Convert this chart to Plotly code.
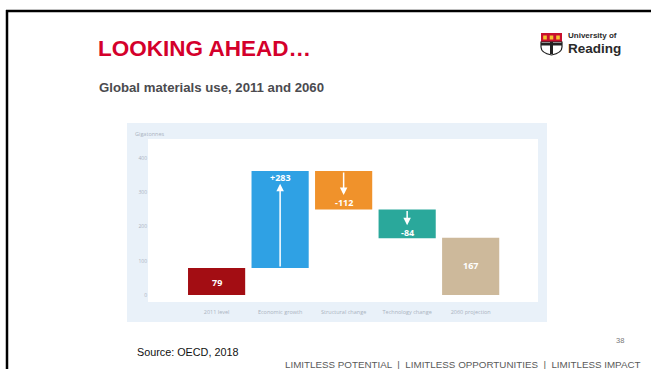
import plotly.graph_objects as go

# ---------------- data ----------------
categories = ["2011 level", "Economic growth", "Structural change", "Technology change", "2060 projection"]
changes = [79, 283, -112, -84, 167]          # Gigatonnes
kinds = ["total", "relative", "relative", "relative", "total"]
bar_colors = ["#a30d13", "#2fa1e4", "#f0922b", "#2aa89b", "#cdb99b"]
y_ticks = [0, 100, 200, 300, 400]

W, H = 651, 369
def px(x):
    return x / W
def py(y):
    return 1 - y / H

# floating bar bases from the running total
bases, lengths, tops = [], [], []
running = 0
for v, k in zip(changes, kinds):
    if k == "total":
        bases.append(0)
        lengths.append(v)
        running = v
        tops.append(v)
    else:
        start = running
        running = running + v
        bases.append(min(start, running))
        lengths.append(abs(v))
        tops.append(max(start, running))

fig = go.Figure()
fig.add_trace(go.Bar(
    x=categories, y=lengths, base=bases,
    marker=dict(color=bar_colors, line=dict(width=0)),
    width=0.9, hoverinfo="skip", showlegend=False,
))

# labels and arrows
label_font = dict(family="Open Sans, Liberation Sans, sans-serif", size=9, color="white")
annotations = []
arrow_len = {1: 37, 2: 70, 3: 46}
for i, (c, v, k) in enumerate(zip(categories, changes, kinds)):
    txt = str(v) if k == "total" else ("+%d" % v if v > 0 else "-%d" % abs(v))
    if k == "total":
        ly = v / 2 - (2 if v < 100 else -4)
    elif v > 0:
        top = tops[i]
        ly = top - 20
        annotations.append(dict(x=c, y=top - arrow_len[i], ax=c, ay=bases[i], xref="x", yref="y",
                                axref="x", ayref="y", text="", showarrow=True, arrowhead=2,
                                arrowsize=1, arrowwidth=1.5, arrowcolor="white"))
    else:
        top = tops[i]
        head = top - arrow_len[i]
        ly = head - 21
        annotations.append(dict(x=c, y=head, ax=c, ay=top, xref="x", yref="y",
                                axref="x", ayref="y", text="", showarrow=True, arrowhead=2,
                                arrowsize=1, arrowwidth=1.5, arrowcolor="white"))
    annotations.append(dict(x=c, y=ly, xref="x", yref="y", text="<b>%s</b>" % txt,
                            showarrow=False, font=label_font))

# y-axis title
annotations.append(dict(x=px(133), y=py(134), xref="paper", yref="paper", xanchor="left",
                        yanchor="middle", text="Gigatonnes", showarrow=False,
                        font=dict(family="Open Sans, Liberation Sans, sans-serif", size=5.5, color="#a9b3bf")))

# slide texts
narrow = "Liberation Sans Narrow, Arial Narrow, Liberation Sans, Arial, sans-serif"
annotations += [
    dict(x=px(96), y=py(48), xref="paper", yref="paper", xanchor="left", yanchor="middle",
         text="<b>LOOKING AHEAD…</b>", showarrow=False,
         font=dict(family=narrow, size=22.5, color="#d4002b")),
    dict(x=px(97), y=py(88), xref="paper", yref="paper", xanchor="left", yanchor="middle",
         text="<b>Global materials use, 2011 and 2060</b>", showarrow=False,
         font=dict(family=narrow, size=13.2, color="#4b4b4f")),
    dict(x=px(135), y=py(352), xref="paper", yref="paper", xanchor="left", yanchor="middle",
         text="Source: OECD, 2018", showarrow=False,
         font=dict(family="Liberation Sans, Arial, sans-serif", size=10.8, color="#111111")),
    dict(x=px(626), y=py(340), xref="paper", yref="paper", xanchor="right", yanchor="middle",
         text="38", showarrow=False,
         font=dict(family="Liberation Sans, Arial, sans-serif", size=7.5, color="#777777")),
    dict(x=px(283), y=py(364), xref="paper", yref="paper", xanchor="left", yanchor="middle",
         text="LIMITLESS POTENTIAL  |  LIMITLESS OPPORTUNITIES  |  LIMITLESS IMPACT", showarrow=False,
         font=dict(family="Liberation Sans, Arial, sans-serif", size=9.8, color="#5a5a5a")),
    dict(x=px(566), y=py(36), xref="paper", yref="paper", xanchor="left", yanchor="middle",
         text="<b>University of</b>", showarrow=False,
         font=dict(family="Liberation Sans, Arial, sans-serif", size=8, color="#2a2a2a")),
    dict(x=px(566), y=py(48.5), xref="paper", yref="paper", xanchor="left", yanchor="middle",
         text="<b>Reading</b>", showarrow=False,
         font=dict(family="Liberation Sans, Arial, sans-serif", size=13.5, color="#2a2a2a")),
]

shapes = [
    # chart frame (light blue) and inner white panel
    dict(type="rect", xref="paper", yref="paper", x0=px(127), x1=px(547), y0=py(322), y1=py(123),
         fillcolor="#e9f1f9", line=dict(width=0), layer="below"),
    dict(type="rect", xref="paper", yref="paper", x0=px(148), x1=px(538), y0=py(302), y1=py(139),
         fillcolor="white", line=dict(width=0), layer="below"),
    # slide border
    dict(type="line", xref="paper", yref="paper", x0=px(6), x1=px(651), y0=py(11), y1=py(11),
         line=dict(color="black", width=2.5)),
    dict(type="line", xref="paper", yref="paper", x0=px(7), x1=px(7), y0=py(10), y1=py(369),
         line=dict(color="black", width=2.5)),
    # logo shield
    dict(type="rect", xref="paper", yref="paper", x0=px(541), x1=px(562), y0=py(42), y1=py(33),
         fillcolor="#c8102e", line=dict(width=0)),
    dict(type="path", xref="paper", yref="paper",
         path="M %f,%f L %f,%f L %f,%f Q %f,%f %f,%f Q %f,%f %f,%f Z" % (
             px(541), py(42), px(562), py(42), px(562), py(47),
             px(562), py(53), px(551.5), py(55), px(541), py(53), px(541), py(47)),
         fillcolor="white", line=dict(color="#222222", width=1.2)),
    dict(type="rect", xref="paper", yref="paper", x0=px(541), x1=px(562), y0=py(45.5), y1=py(43),
         fillcolor="#222222", line=dict(width=0)),
    dict(type="rect", xref="paper", yref="paper", x0=px(550), x1=px(553), y0=py(54), y1=py(42),
         fillcolor="#222222", line=dict(width=0)),
]
for cx in (545, 551.5, 558):
    shapes.append(dict(type="rect", xref="paper", yref="paper", x0=px(cx - 1.8), x1=px(cx + 1.8),
                       y0=py(39.5), y1=py(35.5), fillcolor="#f4c430", line=dict(width=0)))

# axis ranges from pixel calibration: 0 at y=295, 400 at y=158
unit = (295 - 158) / 400.0
y_lo = (295 - 302) / unit
y_hi = (295 - 139) / unit

fig.update_layout(
    width=W, height=H,
    margin=dict(l=0, r=0, t=0, b=0),
    paper_bgcolor="white", plot_bgcolor="white",
    bargap=0.1,
    xaxis=dict(domain=[px(148), px(538)], range=[-1.08, 5.06], showgrid=False, zeroline=False,
               showline=False, ticks="", ticklabelstandoff=5,
               tickfont=dict(family="Open Sans, Liberation Sans, sans-serif", size=5.5, color="#a9b3bf"),
               fixedrange=True),
    yaxis=dict(domain=[py(302), py(139)], range=[y_lo, y_hi], tickvals=y_ticks,
               showgrid=False, zeroline=False, showline=False, ticks="",
               tickfont=dict(family="Open Sans, Liberation Sans, sans-serif", size=5, color="#a9b3bf"),
               fixedrange=True),
    shapes=shapes,
    annotations=annotations,
)

fig.write_html("out.html")
